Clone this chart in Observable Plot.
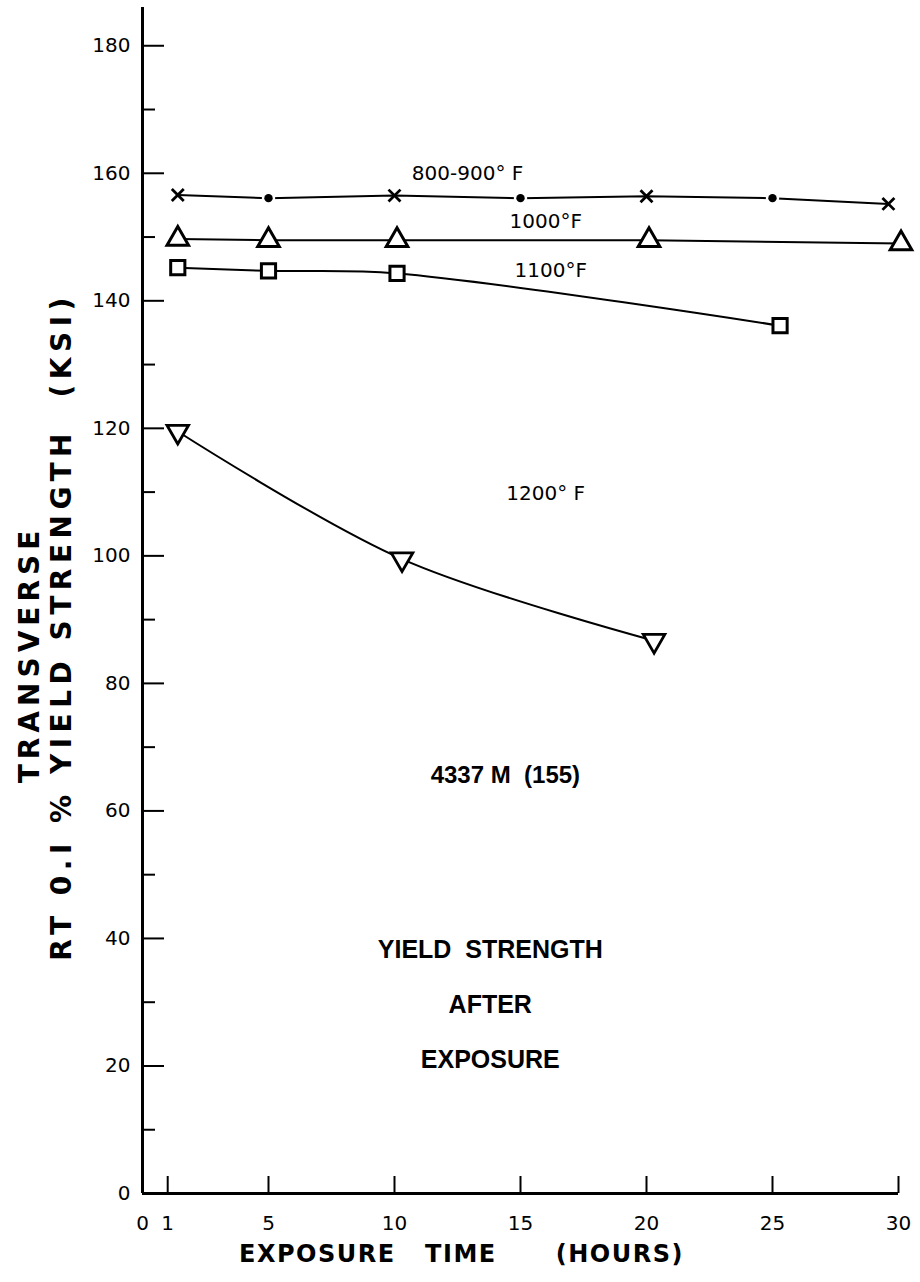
<!DOCTYPE html>
<html><head><meta charset="utf-8">
<script src="https://cdn.jsdelivr.net/npm/d3@7"></script>
<script src="https://cdn.jsdelivr.net/npm/@observablehq/plot@0.6"></script>
<style>
body{margin:0;background:#fff}
</style>
</head><body><div id="chart"></div>
<script>
// ---- data ----
const hours800 = [1.4, 5, 10, 15, 20, 25, 29.6];
const ksi800   = [156.6, 156.1, 156.5, 156.1, 156.4, 156.1, 155.2];
const marker800 = ["x", "dot", "x", "dot", "x", "dot", "x"];

const hours1000 = [1.4, 5, 10.1, 20.1, 30.1];
const ksi1000   = [149.7, 149.5, 149.5, 149.5, 149.0];

const hours1100 = [1.4, 5, 10.1, 25.3];
const ksi1100   = [145.2, 144.7, 144.3, 136.1];

const hours1200 = [1.4, 10.3, 20.3];
const ksi1200   = [119.5, 99.5, 86.7];

const seriesLabels = ["800-900° F", "1000°F", "1100°F", "1200° F"];
const xTickLabels = [0, 1, 5, 10, 15, 20, 25, 30];
const xTickMarks = [1, 5, 10, 15, 20, 25, 30];
const yMajorTicks = [0, 20, 40, 60, 80, 100, 120, 140, 160, 180];
const yMinorTicks = [10, 30, 50, 70, 90, 110, 130, 150, 170];

const alloyNote = "4337 M  (155)";
const titleText = "YIELD  STRENGTH\nAFTER\nEXPOSURE";
const yTitle1 = "TRANSVERSE";
const yTitle2 = "RT 0.I % YIELD STRENGTH  (KSI)";
const xTitle = "EXPOSURE   TIME      (HOURS)";

// ---- build tables ----
const rows = (hs, vs, extra) => hs.map((h, i) => ({h, v: vs[i], ...(extra ? {m: extra[i]} : {})}));
const s800 = rows(hours800, ksi800, marker800);
const s1000 = rows(hours1000, ksi1000);
const s1100 = rows(hours1100, ksi1100);
const s1200 = rows(hours1200, ksi1200);

const W = 920, H = 1282, ML = 142, MR = 22, MT = 7, MB = 89;
const frameW = W - ML - MR, frameH = H - MT - MB;
const ink = "#000";
const sans = "DejaVu Sans, sans-serif";
const boldFont = "Liberation Sans, Arial, sans-serif";

const chart = Plot.plot({
  width: W,
  height: H,
  marginLeft: ML,
  marginRight: MR,
  marginTop: MT,
  marginBottom: MB,
  style: {fontFamily: sans, fontSize: "20px", background: "#fff", color: ink},
  x: {domain: [0, 30], label: null},
  y: {domain: [0, 186], label: null},
  marks: [
    // inward tick marks
    Plot.tickY(yMajorTicks, {insetRight: frameW - 22, stroke: ink, strokeWidth: 2}),
    Plot.tickY(yMinorTicks, {insetRight: frameW - 13, stroke: ink, strokeWidth: 2}),
    Plot.tickX(xTickMarks, {insetTop: frameH - 17, stroke: ink, strokeWidth: 2}),
    // tick labels
    Plot.axisY(yMajorTicks, {anchor: "left", tickSize: 0, tickPadding: 12, fontSize: 20}),
    Plot.axisX(xTickLabels, {anchor: "bottom", tickSize: 0, tickPadding: 22, fontSize: 20}),
    // axis lines
    Plot.ruleX([0], {y1: 0, y2: 186, strokeWidth: 3, stroke: ink}),
    Plot.ruleY([0], {x1: 0, x2: 30, strokeWidth: 3, stroke: ink}),

    // 800-900 F
    Plot.line(s800, {x: "h", y: "v", stroke: ink, strokeWidth: 2}),
    Plot.dot(s800.filter(d => d.m === "x"), {x: "h", y: "v", symbol: "times", r: 5.5, stroke: ink, strokeWidth: 2.8, fill: "white"}),
    Plot.dot(s800.filter(d => d.m === "dot"), {x: "h", y: "v", symbol: "circle", r: 4.2, fill: ink, stroke: "white", strokeWidth: 5, paintOrder: "stroke"}),

    // 1000 F
    Plot.line(s1000, {x: "h", y: "v", stroke: ink, strokeWidth: 2}),
    Plot.dot(s1000, {x: "h", y: "v", symbol: "triangle", r: 8, stroke: ink, strokeWidth: 3, fill: "white"}),

    // 1100 F
    Plot.line(s1100, {x: "h", y: "v", curve: "catmull-rom", stroke: ink, strokeWidth: 2}),
    Plot.dot(s1100, {x: "h", y: "v", symbol: "square", r: 8, stroke: ink, strokeWidth: 3, fill: "white"}),

    // 1200 F
    Plot.line(s1200, {x: "h", y: "v", curve: "catmull-rom", stroke: ink, strokeWidth: 2}),
    Plot.dot(s1200, {x: "h", y: "v", symbol: "triangle", rotate: 180, r: 8, stroke: ink, strokeWidth: 2.8, fill: "white"}),

    // series labels
    Plot.text([seriesLabels[0]], {x: 12.9, y: 160.0, fontSize: 20, fill: ink}),
    Plot.text([seriesLabels[1]], {x: 16.0, y: 152.5, fontSize: 20, fill: ink}),
    Plot.text([seriesLabels[2]], {x: 16.2, y: 144.8, fontSize: 20, fill: ink}),
    Plot.text([seriesLabels[3]], {x: 16.0, y: 109.8, fontSize: 20, fill: ink}),

    // annotations
    Plot.text([alloyNote], {x: 14.4, y: 65.6, fontSize: 24, fontWeight: "bold", fontFamily: boldFont, fill: ink}),
    Plot.text([titleText], {x: 13.8, y: 31.0, fontSize: 25, fontWeight: "bold", fontFamily: boldFont, lineHeight: 2.2, fill: ink}),

    // axis titles
    Plot.text([yTitle1], {frameAnchor: "left", textAnchor: "middle", rotate: -90, dx: -112, dy: 54, fontSize: 28, fontWeight: "bold", fill: ink}),
    Plot.text([yTitle2], {frameAnchor: "left", textAnchor: "middle", rotate: -90, dx: -80, dy: 26, fontSize: 28, fontWeight: "bold", fill: ink}),
    Plot.text([xTitle], {frameAnchor: "bottom", textAnchor: "middle", dx: -59, dy: 68, fontSize: 24, fontWeight: "bold", fill: ink})
  ]
});

// letter spacing for the lettered titles
d3.select(chart).selectAll("text").each(function () {
  const t = this.textContent;
  if (t === yTitle1) this.setAttribute("letter-spacing", "5");
  if (t === yTitle2) this.setAttribute("letter-spacing", "5.5");
  if (t === xTitle) this.setAttribute("letter-spacing", "1.5");
});
document.getElementById("chart").appendChild(chart);
</script>
</body></html>
